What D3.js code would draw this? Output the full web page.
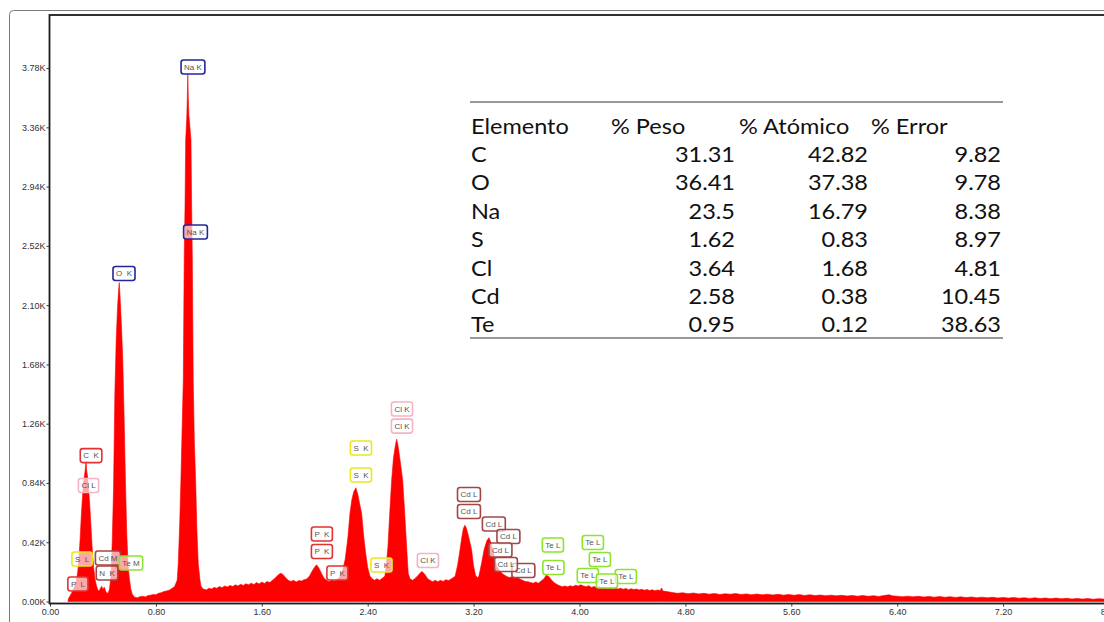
<!DOCTYPE html>
<html><head><meta charset="utf-8">
<script src="https://cdn.jsdelivr.net/npm/d3@7"></script>
<style>
html,body{margin:0;padding:0;background:#fff;}
svg{display:block;}
text{white-space:pre;}
</style></head>
<body>
<svg id="chart" width="1104" height="622"></svg>
<script>
// ---------- DATA ----------
// EDS spectrum: [energy keV, counts]
const spectrum = [
[0.135,0],[0.14,22],[0.15,38],[0.16,55],[0.17,70],[0.18,92],[0.19,118],[0.20,150],[0.21,215],[0.22,330],[0.228,450],[0.236,600],[0.244,720],[0.252,830],[0.26,890],[0.267,940],[0.272,995],[0.277,930],[0.284,880],[0.292,790],[0.30,690],[0.308,560],[0.315,440],[0.322,330],[0.33,240],[0.34,160],[0.35,115],[0.36,85],[0.37,72],[0.38,92],[0.39,108],[0.40,85],[0.41,102],[0.42,75],[0.43,58],[0.44,62],
[0.45,90],[0.46,180],[0.47,420],[0.48,800],[0.49,1480],[0.50,1850],[0.51,2080],[0.518,2200],[0.523,2260],[0.53,2150],[0.54,1950],[0.55,1700],[0.56,1300],[0.57,850],[0.58,480],[0.59,250],[0.60,160],[0.61,90],[0.62,55],[0.63,40],
[0.64,30],[0.66,26],[0.68,34],[0.70,38],[0.72,32],[0.74,42],[0.76,45],[0.78,50],[0.80,48],[0.82,58],[0.84,62],[0.86,70],[0.88,75],[0.90,80],[0.92,92],[0.94,105],[0.95,125],
[0.961,152],[0.969,270],[0.98,560],[0.989,861],[1.00,1300],[1.007,1570],[1.014,2440],[1.02,2800],[1.025,3270],[1.033,3420],[1.037,3560],[1.041,3735],[1.045,3560],[1.049,3450],[1.058,3350],[1.065,3270],[1.07,2800],[1.075,2440],[1.082,1570],[1.09,1150],[1.10,861],[1.11,500],[1.12,270],[1.133,152],[1.14,110],[1.15,95],
[1.16,88],[1.18,82],[1.20,94],[1.22,88],[1.24,100],[1.26,94],[1.28,106],[1.30,98],[1.32,110],[1.34,102],[1.36,114],[1.38,106],[1.40,118],[1.42,110],[1.44,122],[1.46,114],[1.48,126],[1.50,118],[1.52,130],[1.54,120],[1.56,134],[1.58,124],[1.60,138],[1.62,128],[1.64,142],[1.66,134],[1.68,150],[1.70,165],[1.72,185],[1.74,200],[1.76,192],[1.78,168],[1.80,150],[1.82,142],[1.84,150],[1.86,138],[1.88,148],[1.90,145],[1.92,155],
[1.94,160],[1.96,180],[1.98,215],[2.00,245],[2.014,260],[2.03,240],[2.05,200],[2.07,165],[2.09,150],[2.11,142],[2.13,152],[2.15,145],[2.17,158],
[2.19,175],[2.21,220],[2.23,300],[2.25,450],[2.266,625],[2.28,720],[2.295,780],[2.311,805],[2.325,760],[2.34,690],[2.354,625],[2.37,460],[2.385,340],[2.40,240],[2.417,180],[2.43,165],[2.45,150],[2.47,162],[2.49,150],[2.51,165],
[2.53,180],[2.54,260],[2.553,388],[2.565,600],[2.581,861],[2.595,1020],[2.61,1110],[2.619,1150],[2.63,1100],[2.645,1000],[2.664,861],[2.68,620],[2.694,388],[2.706,200],[2.72,160],[2.74,150],[2.76,165],[2.78,185],[2.80,205],[2.81,212],[2.83,195],[2.85,165],[2.87,150],[2.89,140],[2.91,150],[2.93,140],[2.95,150],[2.97,142],[2.99,155],[3.01,148],[3.03,160],[3.05,172],
[3.06,178],[3.08,260],[3.097,365],[3.11,450],[3.122,515],[3.134,540],[3.145,520],[3.16,470],[3.172,420],[3.185,365],[3.20,250],[3.215,185],[3.23,168],[3.24,180],[3.26,270],[3.28,370],[3.30,430],[3.316,452],[3.33,420],[3.35,340],[3.374,250],[3.40,215],[3.42,195],[3.45,178],[3.47,170],[3.49,175],[3.51,165],[3.53,172],[3.55,160],[3.57,150],[3.59,142],[3.61,140],[3.63,135],
[3.65,130],[3.67,138],[3.69,130],[3.71,145],[3.73,160],[3.75,188],[3.77,175],[3.79,150],[3.81,132],[3.83,120],[3.85,112],[3.87,105],[3.89,110],
[3.91,104],[3.93,112],[3.95,106],[3.97,115],[3.99,110],[4.01,118],[4.03,110],[4.05,105],[4.07,112],[4.09,100],[4.11,106],[4.13,98],[4.15,104],[4.17,95],[4.19,100],[4.21,92],[4.23,98],[4.25,90],[4.27,95],[4.29,88],[4.31,94],[4.33,86],[4.35,92],[4.37,84],[4.39,90],[4.41,85],[4.43,88],[4.45,82],[4.47,86],[4.49,80],[4.51,85],[4.53,78],[4.55,83],[4.57,76],[4.59,82],
[4.61,78],[4.62,96],[4.63,74],[4.66,70],[4.70,64],[4.74,58],[4.78,62],[4.82,55],[4.86,60],[4.90,54],[4.94,58],[4.98,52],[5.02,57],[5.06,50],[5.10,55],[5.14,52],[5.18,56],[5.22,50],[5.26,54],[5.30,48],[5.34,53],[5.38,47],[5.42,52],[5.46,46],[5.50,51],[5.54,45],[5.58,50],[5.62,44],[5.66,49],[5.70,43],[5.74,48],[5.78,42],[5.82,46],[5.86,41],[5.90,45],[5.94,40],[5.98,44],[6.02,39],[6.06,43],[6.10,38],[6.14,42],[6.18,37],[6.22,41],[6.26,36],[6.30,42],[6.34,48],[6.36,40],[6.40,38],[6.44,34],[6.48,38],[6.52,33],[6.56,37],[6.60,32],[6.64,36],[6.68,31],[6.72,35],[6.76,30],[6.80,34],[6.84,29],[6.88,33],[6.92,28],[6.96,32],[7.00,27],[7.04,31],[7.08,26],[7.12,30],[7.16,25],[7.20,29],[7.24,24],[7.28,28],[7.32,23],[7.36,27],[7.40,22],[7.44,26],[7.48,21],[7.52,25],[7.56,20],[7.60,24],[7.64,19],[7.68,23],[7.72,18],[7.76,22],[7.80,17],[7.84,21],[7.88,16],[7.92,20],[7.96,18],[8.00,17]
];

const xTicks = [0, 0.8, 1.6, 2.4, 3.2, 4.0, 4.8, 5.6, 6.4, 7.2, 8.0];
const yTicks = [0, 420, 840, 1260, 1680, 2100, 2520, 2940, 3360, 3780];

// Peak labels: text, energy (keV) and counts of the label centre, element group
const peakLabels = [
  ["P  L", 0.211, 124, "P"],
  ["S  L", 0.242, 301, "S"],
  ["Cl L", 0.291, 822, "Cl"],
  ["C  K", 0.310, 1034, "C"],
  ["Cd M", 0.438, 308, "Cd"],
  ["N  K", 0.431, 202, "N"],
  ["Te M", 0.612, 273, "Te"],
  ["O  K", 0.559, 2324, "O"],
  ["Na K", 1.080, 3787, "Na"],
  ["Na K", 1.099, 2618, "Na"],
  ["P  K", 2.054, 478, "P"],
  ["P  K", 2.054, 354, "P"],
  ["P  K", 2.171, 202, "P"],
  ["S  K", 2.349, 1088, "S"],
  ["S  K", 2.349, 896, "S"],
  ["S  K", 2.504, 259, "S"],
  ["Cl K", 2.659, 1364, "Cl"],
  ["Cl K", 2.659, 1243, "Cl"],
  ["Cl K", 2.855, 290, "Cl"],
  ["Cd L", 3.165, 758, "Cd"],
  ["Cd L", 3.165, 638, "Cd"],
  ["Cd L", 3.353, 549, "Cd"],
  ["Cd L", 3.463, 461, "Cd"],
  ["Cd L", 3.403, 365, "Cd"],
  ["Cd L", 3.576, 220, "Cd"],
  ["Cd L", 3.444, 262, "Cd"],
  ["Te L", 3.799, 400, "Te"],
  ["Te L", 3.803, 241, "Te"],
  ["Te L", 4.101, 418, "Te"],
  ["Te L", 4.154, 298, "Te"],
  ["Te L", 4.063, 184, "Te"],
  ["Te L", 4.350, 177, "Te"],
  ["Te L", 4.207, 145, "Te"]
];

// Quantification table
const tableHeaders = ["Elemento", "% Peso", "% Atómico", "% Error"];
const elements = ["C", "O", "Na", "S", "Cl", "Cd", "Te"];
const pesoPct = ["31.31", "36.41", "23.5", "1.62", "3.64", "2.58", "0.95"];
const atomicoPct = ["42.82", "37.38", "16.79", "0.83", "1.68", "0.38", "0.12"];
const errorPct = ["9.82", "9.78", "8.38", "8.97", "4.81", "10.45", "38.63"];

// ---------- STYLE / LAYOUT ----------
const groupColor = {
  C: "#e23232", P: "#e23232", O: "#25259c", Na: "#25259c",
  Cl: "#f4b4c2", S: "#e9e91c", Cd: "#a24747", N: "#a24747", Te: "#8be52e"
};

const svg = d3.select("#chart");
const W = 1104, H = 622;
const plotLeft = 50, plotTop = 15, axisY = 603.5;

const x = d3.scaleLinear().domain([0, 8]).range([50, 1109]);
const y = d3.scaleLinear().domain([0, 4156]).range([601.5, 15]);

// outer frame
svg.append("rect")
  .attr("x", 9.5).attr("y", 10.5).attr("width", 1200).attr("height", 700)
  .attr("rx", 4).attr("fill", "none").attr("stroke", "#7a7a7a").attr("stroke-width", 1);

// clip for plot
svg.append("clipPath").attr("id", "plotclip")
  .append("rect").attr("x", plotLeft).attr("y", plotTop).attr("width", W - plotLeft).attr("height", axisY - plotTop);

// spectrum
const area = d3.area()
  .x(d => x(d[0]))
  .y0(y(0))
  .y1(d => y(d[1]))
  .curve(d3.curveLinear);

svg.append("path")
  .datum(spectrum)
  .attr("clip-path", "url(#plotclip)")
  .attr("d", area)
  .attr("fill", "#ff0000")
  .attr("stroke", "#ff0000")
  .attr("stroke-width", 0.6);

// inner frame
svg.append("rect")
  .attr("x", 49.5).attr("y", 15).attr("width", 1200).attr("height", axisY - 15)
  .attr("fill", "none").attr("stroke", "#1a1a1a").attr("stroke-width", 1.8);

// axes
const yAxis = d3.axisLeft(y).tickValues(yTicks)
  .tickFormat(d => (d / 1000).toFixed(2) + "K")
  .tickSize(3).tickSizeOuter(0).tickPadding(1);
const gy = svg.append("g").attr("transform", "translate(49.5,0)").call(yAxis);
gy.select(".domain").remove();

const xAxis = d3.axisBottom(x).tickValues(xTicks)
  .tickFormat(d3.format(".2f"))
  .tickSize(3).tickSizeOuter(0).tickPadding(2);
const gx = svg.append("g").attr("transform", `translate(0,${axisY})`).call(xAxis);
gx.select(".domain").remove();

svg.selectAll(".tick text")
  .attr("font-family", "'Liberation Sans', Arial, sans-serif")
  .attr("font-size", 9).attr("fill", "#333");
svg.selectAll(".tick line").attr("stroke", "#333");

// peak labels
const lab = svg.append("g").attr("font-family", "'Liberation Sans', Arial, sans-serif").attr("font-size", 8);
peakLabels.forEach(([t, kev, c, grp]) => {
  const g = lab.append("g").attr("transform", `translate(${x(kev)},${y(c)})`);
  const r = g.append("rect");
  const tx = g.append("text").attr("text-anchor", "middle").attr("dy", "0.35em")
    .attr("fill", "#555").text(t);
  const w = tx.node().getComputedTextLength();
  r.attr("x", -w / 2 - 3).attr("y", -7).attr("width", w + 6).attr("height", 14)
    .attr("rx", 2.5).attr("fill", "#fff").attr("fill-opacity", 0.65)
    .attr("stroke", groupColor[grp]).attr("stroke-width", 1.6);
});

// table
const tbl = svg.append("g").attr("font-family", "Lato, 'Open Sans', sans-serif")
  .attr("font-size", 21).attr("fill", "#111");
const tLeft = 470, tRight = 1003, lineTop = 102, lineBottom = 338;
const headerLefts = [471, 611, 739, 871];
const valueRights = [735, 868, 1001];
const headerBase = 134, rowBase0 = 162, rowStep = 28.4;
const sx = 1.12;

tbl.append("line").attr("x1", tLeft).attr("x2", tRight).attr("y1", lineTop).attr("y2", lineTop)
  .attr("stroke", "#777").attr("stroke-width", 1.5);
tbl.append("line").attr("x1", tLeft).attr("x2", tRight).attr("y1", lineBottom).attr("y2", lineBottom)
  .attr("stroke", "#777").attr("stroke-width", 1.5);

tableHeaders.forEach((h, i) => {
  tbl.append("text").attr("transform", `translate(${headerLefts[i]},${headerBase}) scale(${sx},1)`).text(h);
});
elements.forEach((e, r) => {
  const yb = rowBase0 + r * rowStep;
  tbl.append("text").attr("transform", `translate(${headerLefts[0]},${yb}) scale(${sx},1)`).text(e);
  [pesoPct[r], atomicoPct[r], errorPct[r]].forEach((v, k) => {
    tbl.append("text").attr("text-anchor", "end")
      .attr("transform", `translate(${valueRights[k]},${yb}) scale(${sx},1)`).text(v);
  });
});
</script>
</body></html>
